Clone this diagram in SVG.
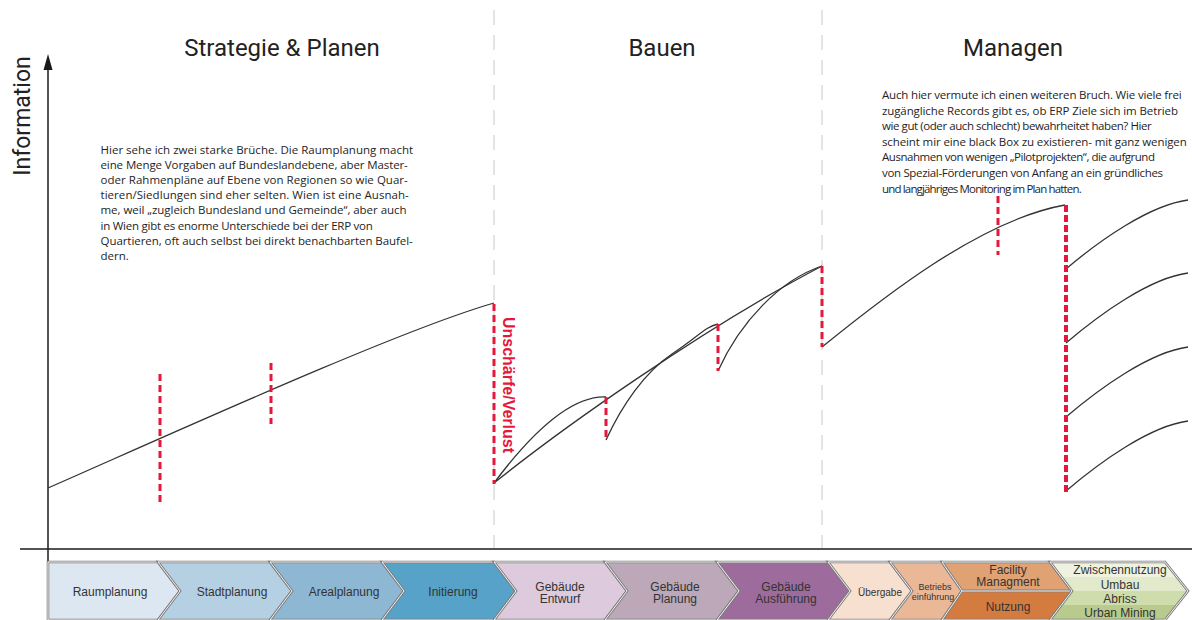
<svg xmlns="http://www.w3.org/2000/svg" width="1192" height="620" viewBox="0 0 1192 620">
  <defs>
    <style>
      .head { font-family: Roboto, "Liberation Sans", sans-serif; font-size: 24px; fill: #222; text-anchor: middle; }
      .axislabel { font-family: Roboto, "Liberation Sans", sans-serif; font-size: 23px; fill: #222; text-anchor: middle; }
      .para { font-family: "Open Sans", Lato, sans-serif; font-size: 11.5px; fill: #1e1e1e; }
      .axis { stroke: #1a1a1a; stroke-width: 1.5; fill: none; }
      .sep { stroke: #c9c9c9; stroke-width: 1; stroke-dasharray: 15 10; fill: none; }
      .curve { stroke: #333; stroke-width: 1.3; fill: none; }
      .brk { stroke: #e5173a; stroke-width: 3; stroke-dasharray: 7 4; fill: none; }
      .brk-strong { stroke: #e5173a; stroke-width: 4; stroke-dasharray: 7 3; fill: none; }
      .loss { font-family: "Liberation Sans", Arial, sans-serif; font-size: 16px; font-weight: bold; fill: #e5173a; text-anchor: middle; }
      .chev { stroke: #7d7d7d; stroke-width: 2.6; stroke-linejoin: miter; }
      .chev-in { stroke: #fff; stroke-width: 0.9; fill: none; }
      .lbl { font-family: "Liberation Sans", Arial, sans-serif; font-size: 12px; fill: #333; text-anchor: middle; }
      .lbl-s { font-family: "Liberation Sans", Arial, sans-serif; font-size: 10px; fill: #333; text-anchor: middle; }
      .lbl-xs { font-family: "Liberation Sans", Arial, sans-serif; font-size: 9px; fill: #333; text-anchor: middle; }
    </style>
    <clipPath id="greenClip">
      <polygon points="1050,562 1165,562 1188,591 1165,620 1050,620 1072,591"/>
    </clipPath>
  </defs>

  <rect width="1192" height="620" fill="#fff"/>

  <!-- phase headings -->
  <text class="head" x="282" y="56">Strategie &amp; Planen</text>
  <text class="head" x="662" y="56">Bauen</text>
  <text class="head" x="1013" y="56">Managen</text>

  <!-- phase separators -->
  <g id="separators">
    <line class="sep" x1="494" y1="10" x2="494" y2="548"/>
    <line class="sep" x1="822" y1="10" x2="822" y2="548"/>
  </g>

  <!-- axes -->
  <g id="axes">
    <line class="axis" x1="48" y1="66" x2="48" y2="620"/>
    <polygon points="48,54 43.5,70 52.5,70" fill="#1a1a1a"/>
    <line class="axis" x1="20" y1="549" x2="1192" y2="549"/>
    <text class="axislabel" transform="translate(30,116) rotate(-90)">Information</text>
  </g>

  <!-- commentary -->
  <g id="note-left">
    <text class="para" x="100.5" y="154" textLength="312.6">Hier sehe ich zwei starke Brüche. Die Raumplanung macht</text>
    <text class="para" x="100.5" y="169.1" textLength="307.3">eine Menge Vorgaben auf Bundeslandebene, aber Master-</text>
    <text class="para" x="100.5" y="184.2" textLength="307.3">oder Rahmenpläne auf Ebene von Regionen so wie Quar-</text>
    <text class="para" x="100.5" y="199.3" textLength="308.3">tieren/Siedlungen sind eher selten. Wien ist eine Ausnah-</text>
    <text class="para" x="100.5" y="214.4" textLength="306">me, weil „zugleich Bundesland und Gemeinde“, aber auch</text>
    <text class="para" x="100.5" y="229.5" textLength="272.3">in Wien gibt es enorme Unterschiede bei der ERP von</text>
    <text class="para" x="100.5" y="244.6" textLength="312.3">Quartieren, oft auch selbst bei direkt benachbarten Baufel-</text>
    <text class="para" x="100.5" y="259.7">dern.</text>
  </g>
  <g id="note-right">
    <text class="para" x="882" y="99" textLength="299.7">Auch hier vermute ich einen weiteren Bruch. Wie viele frei</text>
    <text class="para" x="882" y="114.6" textLength="296">zugängliche Records gibt es, ob ERP Ziele sich im Betrieb</text>
    <text class="para" x="882" y="130.2" textLength="269.7">wie gut (oder auch schlecht) bewahrheitet haben? Hier</text>
    <text class="para" x="882" y="145.8" textLength="304.7">scheint mir eine black Box zu existieren- mit ganz wenigen</text>
    <text class="para" x="882" y="161.4" textLength="273">Ausnahmen von wenigen „Pilotprojekten“, die aufgrund</text>
    <text class="para" x="882" y="177" textLength="281">von Spezial-Förderungen von Anfang an ein gründliches</text>
    <text class="para" x="882" y="192.6" textLength="199.7">und langjähriges Monitoring im Plan hatten.</text>
  </g>

  <!-- information curves -->
  <g id="curves">
    <path class="curve" d="M48,488 C180,430 400,330 494,303"/>
    <path class="curve" d="M494,483 C560,430 700,330 822,266"/>
    <path class="curve" d="M494,483 Q560,395 606,397"/>
    <path class="curve" d="M606,440 C622,405 645,372 672,354 S705,327 718,324"/>
    <path class="curve" d="M718,371 C740,322 780,280 822,266"/>
    <path class="curve" d="M822,347 C880,300 980,220 1065,205"/>
    <path class="curve" d="M1066,269 C1100,240 1150,205 1188,200"/>
    <path class="curve" d="M1066,343 C1100,314 1150,278 1188,273"/>
    <path class="curve" d="M1066,417 C1100,388 1150,352 1188,347"/>
    <path class="curve" d="M1066,491 C1100,462 1150,426 1188,421"/>
  </g>

  <!-- information breaks -->
  <g id="breaks">
    <line class="brk" x1="160" y1="374" x2="160" y2="506"/>
    <line class="brk" x1="271" y1="363" x2="271" y2="424"/>
    <line class="brk" x1="494" y1="304" x2="494" y2="484"/>
    <line class="brk" x1="606" y1="397" x2="606" y2="440"/>
    <line class="brk" x1="718" y1="324" x2="718" y2="371"/>
    <line class="brk" x1="822" y1="266" x2="822" y2="347"/>
    <line class="brk" x1="998" y1="196" x2="998" y2="255"/>
    <line class="brk-strong" x1="1066" y1="205" x2="1066" y2="492"/>
    <text class="loss" transform="translate(503,385) rotate(90)">Unschärfe/Verlust</text>
  </g>

  <!-- lifecycle phases -->
  <g id="phases">
    <g id="raumplanung">
      <polygon class="chev" fill="#dde7f1" points="48,562 158,562 180,591 158,620 48,620"/>
      <polygon class="chev-in" points="48,562 158,562 180,591 158,620 48,620"/>
      <text class="lbl" x="110" y="596">Raumplanung</text>
    </g>
    <g id="stadtplanung">
      <polygon class="chev" fill="#b5d0e3" points="158,562 270,562 292,591 270,620 158,620 180,591"/>
      <polygon class="chev-in" points="158,562 270,562 292,591 270,620 158,620 180,591"/>
      <text class="lbl" x="232" y="596">Stadtplanung</text>
    </g>
    <g id="arealplanung">
      <polygon class="chev" fill="#8db7d3" points="270,562 382,562 404,591 382,620 270,620 292,591"/>
      <polygon class="chev-in" points="270,562 382,562 404,591 382,620 270,620 292,591"/>
      <text class="lbl" x="344" y="596">Arealplanung</text>
    </g>
    <g id="initierung">
      <polygon class="chev" fill="#56a2c8" points="382,562 494,562 516,591 494,620 382,620 404,591"/>
      <polygon class="chev-in" points="382,562 494,562 516,591 494,620 382,620 404,591"/>
      <text class="lbl" x="453" y="596">Initierung</text>
    </g>
    <g id="gebaeude-entwurf">
      <polygon class="chev" fill="#ddcadc" points="494,562 605,562 627,591 605,620 494,620 516,591"/>
      <polygon class="chev-in" points="494,562 605,562 627,591 605,620 494,620 516,591"/>
      <text class="lbl" x="560" y="590.5">Gebäude</text>
      <text class="lbl" x="560" y="602.5">Entwurf</text>
    </g>
    <g id="gebaeude-planung">
      <polygon class="chev" fill="#bca8b9" points="605,562 717,562 739,591 717,620 605,620 627,591"/>
      <polygon class="chev-in" points="605,562 717,562 739,591 717,620 605,620 627,591"/>
      <text class="lbl" x="675" y="590.5">Gebäude</text>
      <text class="lbl" x="675" y="602.5">Planung</text>
    </g>
    <g id="gebaeude-ausfuehrung">
      <polygon class="chev" fill="#9d6c9c" points="717,562 828,562 850,591 828,620 717,620 739,591"/>
      <polygon class="chev-in" points="717,562 828,562 850,591 828,620 717,620 739,591"/>
      <text class="lbl" x="786" y="590.5">Gebäude</text>
      <text class="lbl" x="786" y="602.5">Ausführung</text>
    </g>
    <g id="uebergabe">
      <polygon class="chev" fill="#f7e0cf" points="828,562 890,562 912,591 890,620 828,620 850,591"/>
      <polygon class="chev-in" points="828,562 890,562 912,591 890,620 828,620 850,591"/>
      <text class="lbl-s" x="880" y="595.5">Übergabe</text>
    </g>
    <g id="betriebseinfuehrung">
      <polygon class="chev" fill="#eab896" points="890,562 942,562 962,591 942,620 890,620 912,591"/>
      <polygon class="chev-in" points="890,562 942,562 962,591 942,620 890,620 912,591"/>
      <text class="lbl-xs" x="935" y="590">Betriebs</text>
      <text class="lbl-xs" x="933" y="600">einführung</text>
    </g>
    <g id="facility-nutzung">
      <polygon class="chev" fill="#e0a173" points="942,562 1050,562 1072,591 962,591"/>
      <polygon class="chev" fill="#d47c3f" points="962,591 1072,591 1050,620 942,620"/>
      <polygon class="chev-in" points="942,562 1050,562 1072,591 1050,620 942,620 962,591"/>
      <line class="chev-in" x1="962" y1="591" x2="1072" y2="591"/>
      <text class="lbl" x="1008" y="574">Facility</text>
      <text class="lbl" x="1008" y="586">Managment</text>
      <text class="lbl" x="1008" y="611">Nutzung</text>
    </g>
    <g id="nachnutzung">
      <g clip-path="url(#greenClip)">
        <rect x="1048" y="562" width="144" height="15" fill="#eef2de"/>
        <rect x="1048" y="577" width="144" height="14" fill="#e2eacb"/>
        <rect x="1048" y="591" width="144" height="14" fill="#cfdcac"/>
        <rect x="1048" y="605" width="144" height="15" fill="#b9cb8c"/>
      </g>
      <polygon class="chev" fill="none" points="1050,562 1165,562 1188,591 1165,620 1050,620 1072,591"/>
      <polygon class="chev-in" points="1050,562 1165,562 1188,591 1165,620 1050,620 1072,591"/>
      <text class="lbl" x="1120" y="574">Zwischennutzung</text>
      <text class="lbl" x="1120" y="588.5">Umbau</text>
      <text class="lbl" x="1120" y="603">Abriss</text>
      <text class="lbl" x="1120" y="616.5">Urban Mining</text>
    </g>
  </g>
</svg>
